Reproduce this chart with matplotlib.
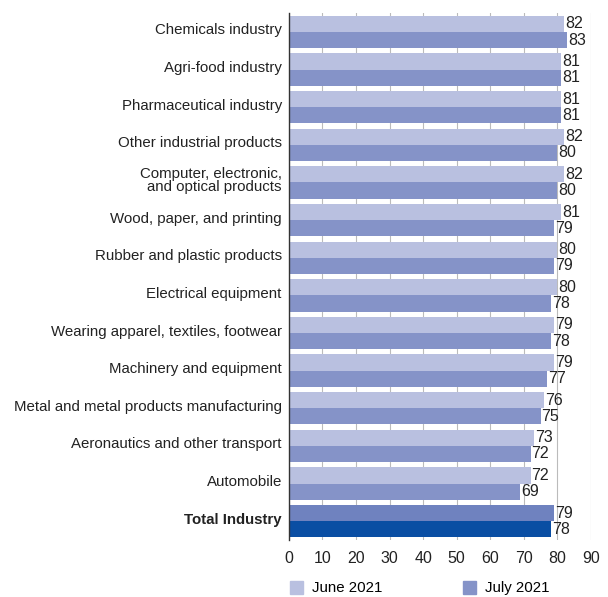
import matplotlib.pyplot as plt
import matplotlib.transforms as mtransforms
import numpy as np
from matplotlib.patches import Patch

plt.rcParams["font.family"] = ["Liberation Sans", "DejaVu Sans"]

sectors = [
    "Chemicals industry",
    "Agri-food industry",
    "Pharmaceutical industry",
    "Other industrial products",
    "Computer, electronic,\nand optical products",
    "Wood, paper, and printing",
    "Rubber and plastic products",
    "Electrical equipment",
    "Wearing apparel, textiles, footwear",
    "Machinery and equipment",
    "Metal and metal products manufacturing",
    "Aeronautics and other transport",
    "Automobile",
    "Total Industry",
]
june_2021 = [82, 81, 81, 82, 82, 81, 80, 80, 79, 79, 76, 73, 72, 79]
july_2021 = [83, 81, 81, 80, 80, 79, 79, 78, 78, 77, 75, 72, 69, 78]

june_color = "#b9c0e0"
july_color = "#8593c8"
june_total = "#6f82bf"
july_total = "#0a4ea3"
fs = 10.8

fig = plt.figure(figsize=(6.08, 5.97), dpi=100)
ax = fig.add_axes([0.475, 0.0955, 0.497, 0.8825])

n = len(sectors)
y = np.arange(n)
h = 0.43
june_cols = [june_color] * (n - 1) + [june_total]
july_cols = [july_color] * (n - 1) + [july_total]

ax.barh(y - h / 2, june_2021, height=h, color=june_cols, zorder=2)
ax.barh(y + h / 2, july_2021, height=h, color=july_cols, zorder=2)

for yi, v in zip(y, june_2021):
    ax.text(v + 0.3, yi - h / 2, str(v), va="center", ha="left", fontsize=11.5, color="#222222")
for yi, v in zip(y, july_2021):
    ax.text(v + 0.3, yi + h / 2, str(v), va="center", ha="left", fontsize=11.5, color="#222222")

ax.set_ylim(n - 0.5, -0.5)
ax.set_xlim(0, 90)
ax.set_xticks(range(0, 91, 10))
ax.set_yticks(y)
ax.set_yticklabels(sectors, fontsize=fs, color="#222222", linespacing=0.95)
ax.get_yticklabels()[-1].set_fontweight("bold")
ax.tick_params(axis="x", length=0, labelsize=11.5, labelcolor="#222222", pad=8)
ax.tick_params(axis="y", length=0, pad=5)

# category labels sit a little above the group centre
lift = mtransforms.ScaledTranslation(0, 3 / 100, fig.dpi_scale_trans)
for lbl in ax.get_yticklabels():
    lbl.set_transform(lbl.get_transform() + lift)

ax.grid(axis="x", color="#bbbbbb", linewidth=0.8, zorder=0)
for side in ["top", "right", "bottom"]:
    ax.spines[side].set_visible(False)
ax.spines["left"].set_color("#333333")
ax.spines["left"].set_linewidth(1.0)

handles = [Patch(color=june_color, label="June 2021"), Patch(color=july_color, label="July 2021")]
fig.legend(
    handles=handles,
    loc="center left",
    bbox_to_anchor=(0.477, 0.015),
    ncol=2,
    frameon=False,
    fontsize=fs,
    borderpad=0,
    borderaxespad=0,
    handlelength=0.87,
    handleheight=1.0,
    columnspacing=5.4,
    handletextpad=0.6,
)

fig.savefig("out.png", dpi=100)
